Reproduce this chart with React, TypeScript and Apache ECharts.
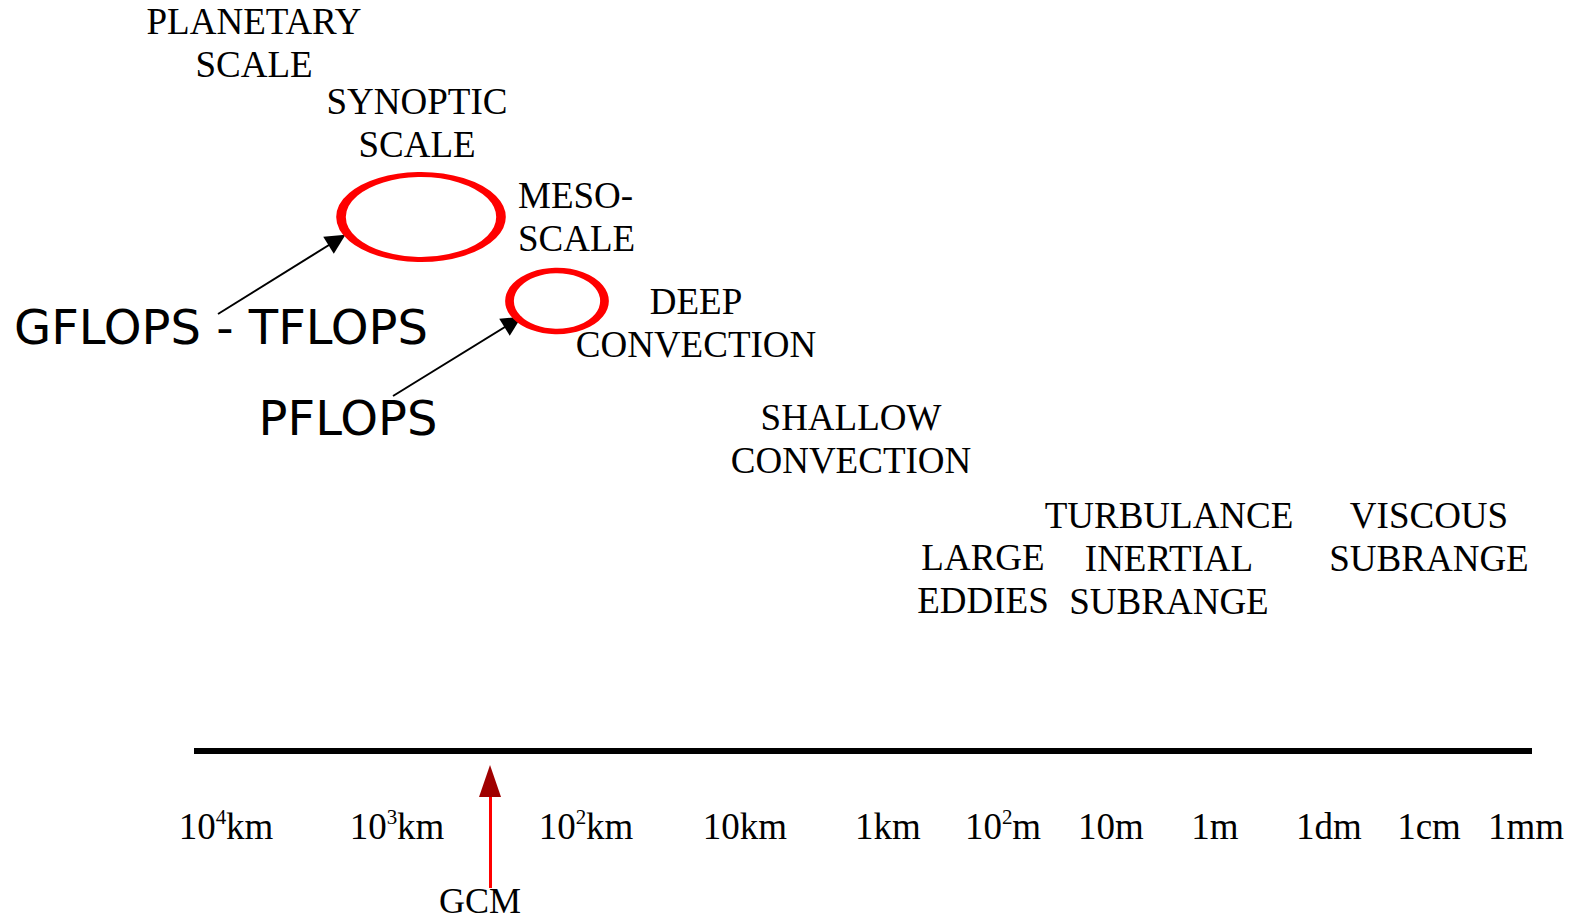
import React, { useEffect, useRef } from "react";
import * as echarts from "echarts";

// ---- Diagram content (positions are in the diagram's 1575 x 921 coordinate space) ----
const scaleNames = [
  "PLANETARY\nSCALE",
  "SYNOPTIC\nSCALE",
  "MESO-\nSCALE",
  "DEEP\nCONVECTION",
  "SHALLOW\nCONVECTION",
  "LARGE\nEDDIES",
  "TURBULANCE\nINERTIAL\nSUBRANGE",
  "VISCOUS\nSUBRANGE",
];
const scaleNameX = [254, 417, 518, 696, 851, 983, 1169, 1429];
const scaleNameY = [43, 123, 217, 323, 439, 579, 558, 537];
const scaleNameAlign = ["center", "center", "left", "center", "center", "center", "center", "center"];

const tickLabels = [
  "10{sup|4}km",
  "10{sup|3}km",
  "10{sup|2}km",
  "10km",
  "1km",
  "10{sup|2}m",
  "10m",
  "1m",
  "1dm",
  "1cm",
  "1mm",
];
const tickX = [226, 397, 586, 745, 888, 1003, 1111, 1215, 1329, 1429, 1526];
const tickY = 826;

const axisStart = [194, 751];
const axisEnd = [1532, 751];

const ellipseCenters = [
  [421, 217],
  [557, 301],
];
const ellipseSizes = [
  [160, 85],
  [95, 61],
];

const computeLabels = ["GFLOPS - TFLOPS", "PFLOPS"];
const computeLabelPos = [
  [221, 327],
  [348, 418],
];
const arrowStarts = [
  [218, 314],
  [393, 396],
];
const arrowTips = [
  [337, 240],
  [513, 322],
];

const gcmLabel = "GCM";
const gcmLabelPos = [480, 901];
const gcmArrowStart = [490, 888];
const gcmArrowEnd = [490, 790];
const gcmHead = [490, 781];

const SERIF = "'Liberation Serif', 'Times New Roman', serif";
const HAND = "'DejaVu Sans', 'Noto Sans', sans-serif";

const hidden = { color: "transparent", opacity: 1 };

export default function App() {
  const ref = useRef<HTMLDivElement>(null);

  useEffect(() => {
    document.body.style.margin = "0";
    document.body.style.overflow = "hidden";
    document.documentElement.style.overflow = "hidden";
    const chart = echarts.init(ref.current!, null, { renderer: "svg", width: 1575, height: 921 });

    const option: any = {
      animation: false,
      backgroundColor: "#ffffff",
      grid: { left: 0, right: 0, top: 0, bottom: 0, containLabel: false },
      xAxis: { type: "value", min: 0, max: 1575, show: false },
      yAxis: { type: "value", min: 0, max: 921, inverse: true, show: false },
      series: [
        // horizontal scale axis
        {
          type: "lines",
          coordinateSystem: "cartesian2d",
          silent: true,
          lineStyle: { color: "#000", width: 6, opacity: 1 },
          data: [{ coords: [axisStart, axisEnd] }],
        },
        // scale names
        {
          type: "scatter",
          silent: true,
          symbolSize: 1,
          itemStyle: hidden,
          data: scaleNames.map((n, i) => ({
            value: [scaleNameX[i], scaleNameY[i]],
            name: n,
            label: {
              show: true,
              position: "inside",
              formatter: n,
              align: scaleNameAlign[i],
              verticalAlign: "middle",
              fontFamily: SERIF,
              fontSize: 37,
              lineHeight: 43,
              color: "#000",
            },
          })),
        },
        // tick labels
        {
          type: "scatter",
          silent: true,
          symbolSize: 1,
          itemStyle: hidden,
          label: {
            show: true,
            position: "inside",
            formatter: (p: any) => tickLabels[p.dataIndex],
            fontFamily: SERIF,
            fontSize: 37,
            lineHeight: 40,
            color: "#000",
            rich: {
              sup: {
                fontFamily: SERIF,
                fontSize: 21,
                lineHeight: 32,
                verticalAlign: "top",
                color: "#000",
              },
            },
          },
          data: tickX.map((x) => [x, tickY]),
        },
        // red ellipses
        {
          type: "scatter",
          silent: true,
          symbol: "circle",
          itemStyle: { color: "transparent", borderColor: "#ff0000", borderWidth: 7, opacity: 1 },
          data: ellipseCenters.map((c, i) => ({ value: c, symbolSize: ellipseSizes[i] })),
        },
        // black arrows
        {
          type: "lines",
          coordinateSystem: "cartesian2d",
          silent: true,
          symbol: ["none", "triangle"],
          symbolSize: 20,
          lineStyle: { color: "#000", width: 2, opacity: 1 },
          data: arrowStarts.map((s, i) => ({ coords: [s, arrowTips[i]] })),
        },
        // compute labels
        {
          type: "scatter",
          silent: true,
          symbolSize: 1,
          itemStyle: hidden,
          label: {
            show: true,
            position: "inside",
            formatter: (p: any) => computeLabels[p.dataIndex],
            fontFamily: HAND,
            fontSize: 48,
            color: "#000",
          },
          data: computeLabelPos,
        },
        // GCM arrow shaft
        {
          type: "lines",
          coordinateSystem: "cartesian2d",
          silent: true,
          lineStyle: { color: "#ff0000", width: 3, opacity: 1 },
          data: [{ coords: [gcmArrowStart, gcmArrowEnd] }],
        },
        // GCM arrow head
        {
          type: "scatter",
          silent: true,
          symbol: "triangle",
          symbolSize: [22, 32],
          itemStyle: { color: "#a00000", opacity: 1 },
          data: [gcmHead],
        },
        // GCM label
        {
          type: "scatter",
          silent: true,
          symbolSize: 1,
          itemStyle: hidden,
          label: {
            show: true,
            position: "inside",
            formatter: gcmLabel,
            fontFamily: SERIF,
            fontSize: 36,
            color: "#000",
          },
          data: [gcmLabelPos],
        },
      ],
    };

    chart.setOption(option);
    return () => chart.dispose();
  }, []);

  return <div ref={ref} style={{ position: "fixed", left: 0, top: 0, width: 1575, height: 921 }} />;
}
